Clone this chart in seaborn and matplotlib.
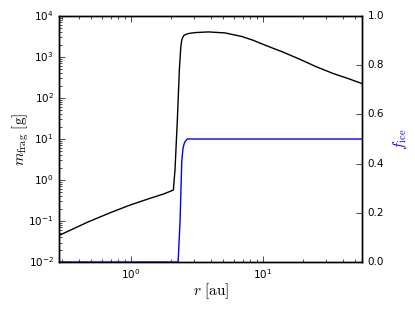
import matplotlib
matplotlib.use("Agg")
import matplotlib.pyplot as plt
import seaborn as sns

# fragmentation mass vs radius
r_frag = [0.286, 0.475, 0.693, 0.98, 1.39, 1.76, 2.03, 2.09, 2.15, 2.24, 2.32, 2.38,
          2.42, 2.49, 2.57, 2.75, 3.05, 3.85, 5.15, 6.9, 8.4, 10.3, 14.0, 19.1, 25.0,
          33.9, 44.0, 56.0]
m_frag = [0.045, 0.096, 0.159, 0.245, 0.358, 0.456, 0.548, 0.57, 1.75, 29, 482, 1780,
          2600, 3250, 3500, 3750, 3920, 4070, 3850, 3150, 2550, 1950, 1330, 870, 585,
          395, 298, 225]

# ice fraction vs radius
r_ice = [0.286, 2.27, 2.35, 2.42, 2.47, 2.52, 2.57, 2.66, 3.0, 56.0]
f_ice = [0.0, 0.0, 0.17, 0.41, 0.46, 0.48, 0.49, 0.5, 0.5, 0.5]

plt.style.use("classic")
plt.rcParams.update({
    "figure.facecolor": "white",
    "savefig.facecolor": "white",
    "mathtext.fontset": "cm",
    "xtick.labelsize": 7.5,
    "ytick.labelsize": 7.5,
})

fig, ax = plt.subplots(figsize=(4.15, 3.12), dpi=100)
fig.subplots_adjust(left=0.143, right=0.872, bottom=0.160, top=0.949)

sns.lineplot(x=r_frag, y=m_frag, ax=ax, color="k", lw=1.0)
ax.set_xscale("log")
ax.set_yscale("log")
ax.set_xlim(0.286, 56)
ax.set_ylim(1e-2, 1e4)
ax.tick_params(right=False, which="both")
ax.set_xlabel(r"$r\ [{\rm au}]$", fontsize=11, labelpad=0)
ax.set_ylabel(r"$m_{\rm frag}\ [{\rm g}]$", fontsize=11, labelpad=-2)

ax2 = ax.twinx()
sns.lineplot(x=r_ice, y=f_ice, ax=ax2, color="b", lw=1.0)
ax2.set_xlim(0.286, 56)
ax2.set_ylim(0, 1)
ax2.tick_params(left=False, which="both")
ax2.set_ylabel(r"$f_{\rm ice}$", fontsize=11, color="b")

fig.savefig("out.png", dpi=100)
